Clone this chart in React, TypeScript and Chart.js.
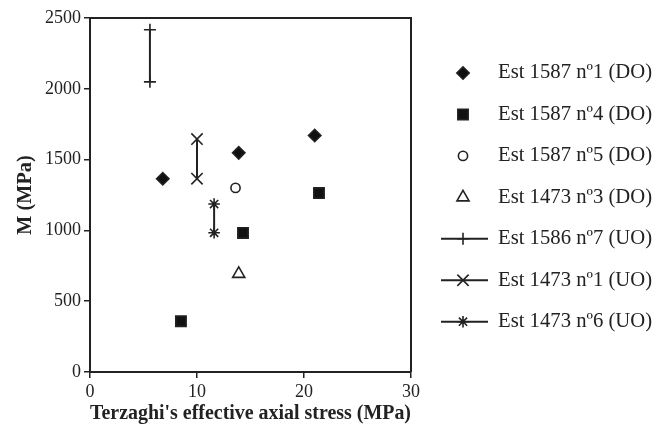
import React, { useEffect, useRef } from "react";
import { Chart, registerables } from "chart.js";
import { drawPoint } from "chart.js/helpers";

Chart.register(...registerables);

const seriesNames = [
  "Est 1587 nº1 (DO)",
  "Est 1587 nº4 (DO)",
  "Est 1587 nº5 (DO)",
  "Est 1473 nº3 (DO)",
  "Est 1586 nº7 (UO)",
  "Est 1473 nº1 (UO)",
  "Est 1473 nº6 (UO)",
];

const est1587n1X = [6.8, 13.9, 21.0];
const est1587n1Y = [1365, 1548, 1670];
const est1587n4X = [8.5, 14.3, 21.4];
const est1587n4Y = [359, 982, 1264];
const est1587n5X = [13.6];
const est1587n5Y = [1300];
const est1473n3X = [13.9];
const est1473n3Y = [693];
const est1586n7X = [5.6, 5.6];
const est1586n7Y = [2049, 2417];
const est1473n1X = [10.0, 10.0];
const est1473n1Y = [1365, 1645];
const est1473n6X = [11.6, 11.6];
const est1473n6Y = [983, 1186];

const xTicks = [0, 10, 20, 30];
const yTicks = [0, 500, 1000, 1500, 2000, 2500];

const INK = "#222222";
const FONT = "'Liberation Serif', 'Times New Roman', serif";

const pts = (xs: number[], ys: number[]) => xs.map((x, i) => ({ x, y: ys[i] }));

const styles = [
  { pointStyle: "rectRot", radius: 6.2, fill: "#111111", line: false },
  { pointStyle: "rect", radius: 7.3, fill: "#111111", line: false },
  { pointStyle: "circle", radius: 4.6, fill: "#ffffff", line: false },
  { pointStyle: "triangle", radius: 7, fill: "#ffffff", line: false },
  { pointStyle: "cross", radius: 6, fill: INK, line: true },
  { pointStyle: "crossRot", radius: 8, fill: INK, line: true },
  { pointStyle: "star", radius: 5.8, fill: INK, line: true },
];

const seriesData = [
  pts(est1587n1X, est1587n1Y),
  pts(est1587n4X, est1587n4Y),
  pts(est1587n5X, est1587n5Y),
  pts(est1473n3X, est1473n3Y),
  pts(est1586n7X, est1586n7Y),
  pts(est1473n1X, est1473n1Y),
  pts(est1473n6X, est1473n6Y),
];

const framePlugin = {
  id: "frame",
  afterDraw(chart: any) {
    const { ctx, chartArea } = chart;
    ctx.save();
    ctx.strokeStyle = INK;
    ctx.lineWidth = 2;
    ctx.beginPath();
    ctx.moveTo(chartArea.left, chartArea.top);
    ctx.lineTo(chartArea.right, chartArea.top);
    ctx.lineTo(chartArea.right, chartArea.bottom);
    ctx.stroke();
    ctx.restore();
  },
};

const legendPlugin = {
  id: "customLegend",
  afterDraw(chart: any) {
    const { ctx } = chart;
    ctx.save();
    chart.data.datasets.forEach((ds: any, i: number) => {
      const y = 73 + i * 41.45;
      const st = styles[i];
      ctx.strokeStyle = INK;
      ctx.lineWidth = 2;
      if (st.line) {
        ctx.beginPath();
        ctx.moveTo(441, y);
        ctx.lineTo(488, y);
        ctx.stroke();
      }
      ctx.fillStyle = st.fill;
      ctx.strokeStyle = INK;
      ctx.lineWidth = 1.6;
      drawPoint(ctx, { pointStyle: st.pointStyle, radius: st.radius, rotation: 0, borderWidth: 1.6 }, 463, y);
      ctx.fillStyle = INK;
      ctx.font = `20.7px ${FONT}`;
      ctx.textBaseline = "middle";
      ctx.textAlign = "left";
      ctx.fillText(ds.label, 498, y);
    });
    ctx.restore();
  },
};

export default function App() {
  const ref = useRef<HTMLCanvasElement>(null);

  useEffect(() => {
    document.body.style.margin = "0";
    const canvas = ref.current!;
    const chart = new Chart(canvas, {
      type: "scatter",
      data: {
        datasets: seriesData.map((d, i) => ({
          label: seriesNames[i],
          data: d,
          showLine: styles[i].line,
          borderColor: INK,
          borderWidth: 2,
          pointStyle: styles[i].pointStyle as any,
          pointRadius: styles[i].radius,
          pointHoverRadius: styles[i].radius,
          pointBackgroundColor: styles[i].fill,
          pointBorderColor: INK,
          pointBorderWidth: 1.6,
        })),
      },
      options: {
        animation: false,
        responsive: false,
        events: [],
        layout: { padding: { top: 18, right: 244, left: 0, bottom: 0 } },
        plugins: { legend: { display: false }, tooltip: { enabled: false } },
        scales: {
          x: {
            type: "linear",
            min: 0,
            max: 30,
            afterFit: (s: any) => { s.height = 57; },
            afterBuildTicks: (s: any) => { s.ticks = xTicks.map((v) => ({ value: v })); },
            ticks: { font: { family: FONT, size: 18 }, color: INK, padding: 3, callback: (v: any) => String(v) },
            grid: { drawOnChartArea: false, drawTicks: true, tickLength: 6, color: INK, lineWidth: 1.5 },
            border: { color: INK, width: 2 },
            title: {
              display: true,
              text: "Terzaghi's effective axial stress (MPa)",
              font: { family: FONT, size: 20.3, weight: "bold" },
              color: INK,
              padding: { top: 0, bottom: 3.5 },
            },
          },
          y: {
            type: "linear",
            min: 0,
            max: 2500,
            afterFit: (s: any) => { s.width = 90; },
            afterBuildTicks: (s: any) => { s.ticks = yTicks.map((v) => ({ value: v })); },
            ticks: { font: { family: FONT, size: 18 }, color: INK, padding: 3, callback: (v: any) => String(v) },
            grid: { drawOnChartArea: false, drawTicks: true, tickLength: 6, color: INK, lineWidth: 1.5 },
            border: { color: INK, width: 2 },
            title: {
              display: true,
              text: "M (MPa)",
              font: { family: FONT, size: 20.3, weight: "bold" },
              color: INK,
              padding: { top: 14, bottom: 0 },
            },
          },
        },
      },
      plugins: [framePlugin, legendPlugin],
    });
    return () => chart.destroy();
  }, []);

  return (
    <div style={{ position: "fixed", left: 0, top: 0, width: 655, height: 429, background: "#fff" }}>
      <canvas ref={ref} width={655} height={429} style={{ width: 655, height: 429, display: "block" }} />
    </div>
  );
}
